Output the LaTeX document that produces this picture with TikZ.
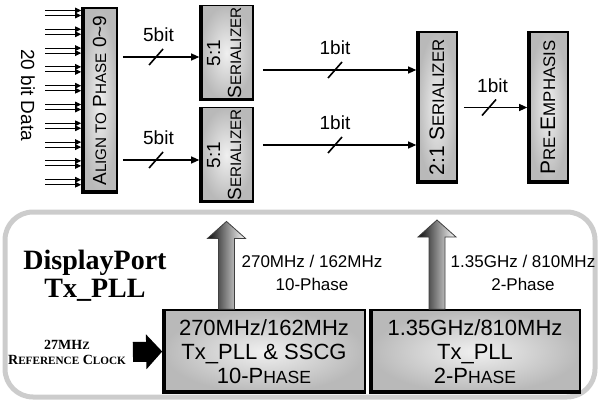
\documentclass[tikz,border=0pt]{standalone}
\usepackage{fontspec}
\setmainfont{Liberation Sans}
\newfontfamily\titlefont{Liberation Serif}
\usetikzlibrary{arrows.meta,positioning,calc}

\newcommand{\smc}[1]{\scalebox{0.8}{#1}}
% slash across a bus line
\newcommand{\busmark}[1]{\draw[line width=0.8pt] ($(#1)+(-7,8)$) -- ($(#1)+(7,-8)$);}
% shaded hollow arrow pointing up
\newcommand{\blockarrow}[2]{%
  \shade[left color=black!95, right color=white, draw=black!75, line width=0.4pt]
    ($(#1)+(-8,0)$) -- ($(#2)+(-8,17)$) -- ($(#2)+(-19,17)$) -- (#2)
    -- ($(#2)+(19,17)$) -- ($(#2)+(8,17)$) -- ($(#1)+(8,0)$) -- cycle;}

\begin{document}
\begin{tikzpicture}[x=0.5pt, y=-0.5pt,
    hbox/.style={rectangle, draw=black, line width=0.8pt, inner sep=1pt,
      inner color=gray!12, outer color=gray!55,
      path picture={\draw[black, line width=3pt]
        (path picture bounding box.north west) -- (path picture bounding box.south west)
        -- (path picture bounding box.south east);}},
    alignbox/.style={hbox, minimum width=17.5pt, minimum height=92.5pt, font=\fontsize{9.5}{10}\selectfont},
    serbox/.style={hbox, minimum width=26.5pt, minimum height=45pt, font=\fontsize{9.5}{10.5}\selectfont},
    tallbox/.style={hbox, minimum width=20pt, minimum height=75.5pt, font=\fontsize{10.5}{11}\selectfont},
    pllbox/.style={hbox, minimum width=101pt, minimum height=41.5pt, align=center, font=\fontsize{11}{12}\selectfont},
    arr/.style={-{Triangle[length=4pt,width=3.5pt]}, line width=0.6pt},
    inarr/.style={-{Triangle[length=3pt,width=2.8pt]}, line width=0.5pt},
    bitlbl/.style={font=\fontsize{9.5}{11}\selectfont, above=4pt},
    freqlbl/.style={font=\fontsize{8.5}{11.5}\selectfont, align=center},
  ]
    \useasboundingbox (0,0) rectangle (600,401);

    % PLL area
    \draw[gray!40, line width=2.5pt, rounded corners=14pt] (5,212) rectangle (595,397);

    % --- data path ---
    \node[rotate=-90, font=\fontsize{9.5}{11}\selectfont] (datalbl) at (28,95) {20 bit Data};
    \node[alignbox] (align) at (99.5,100.5) {\rotatebox{90}{A\smc{LIGN TO} P\smc{HASE} 0\textasciitilde9}};
    \node[serbox] (ser1) at (226.5,53) {\rotatebox{90}{\begin{tabular}{@{}c@{}}5:1\\S\smc{ERIALIZER}\end{tabular}}};
    \node[serbox] (ser2) at (226.5,155) {\rotatebox{90}{\begin{tabular}{@{}c@{}}5:1\\S\smc{ERIALIZER}\end{tabular}}};
    \node[tallbox] (ser21) at (437,107.5) {\rotatebox{90}{2:1 S\smc{ERIALIZER}}};
    \node[tallbox] (pre) at (548,107.5) {\rotatebox{90}{P\smc{RE}-E\smc{MPHASIS}}};

    % 20 input bits
    \foreach \r in {0,...,9} {
      \pgfmathsetmacro{\yy}{13+\r*18.8}
      \draw[inarr] (45,\yy-2.5) -- (align.west |- 0,\yy-2.5);
      \draw[inarr] (45,\yy+2.5) -- (align.west |- 0,\yy+2.5);
    }

    \draw[arr, shorten <=2.5pt] (align.east |- 0,57) -- node[bitlbl] {5bit} coordinate[pos=.47] (m1) (ser1.west |- 0,57);
    \draw[arr, shorten <=2.5pt] (align.east |- 0,160) -- node[bitlbl] {5bit} coordinate[pos=.47] (m2) (ser2.west |- 0,160);
    \busmark{m1}
    \busmark{m2}

    \draw[arr, shorten <=4.5pt] (ser1.east |- 0,70) -- node[bitlbl] {1bit} coordinate[pos=.5] (m3) (ser21.west |- 0,70);
    \draw[arr, shorten <=4.5pt] (ser2.east |- 0,145) -- node[bitlbl] {1bit} coordinate[pos=.5] (m4) (ser21.west |- 0,145);
    \busmark{m3}
    \busmark{m4}

    \draw[arr, shorten <=3pt] (ser21.east) -- node[bitlbl] {1bit} coordinate[pos=.45] (m5) (pre.west);
    \busmark{m5}

    % --- Tx_PLL ---
    \node[font=\titlefont\bfseries\fontsize{14}{14}\selectfont, align=center] (title) at (95,276) {DisplayPort\\Tx\_PLL};
    \node[pllbox] (pll1) at (264,351.5) {270MHz/162MHz\\Tx\_PLL \& SSCG\\10-P\smc{HASE}};
    \node[pllbox, minimum width=105pt] (pll2) at (475,351.5) {1.35GHz/810MHz\\Tx\_PLL\\2-P\smc{HASE}};
    \node[font=\titlefont\bfseries\fontsize{7}{7.5}\selectfont, align=center] (refclk) at (67,352) {27MH\smc{Z}\\R\smc{EFERENCE} C\smc{LOCK}};
    \draw[line width=10pt, -{Triangle[length=8pt,width=17pt]}] (refclk.east) -- (pll1.west);

    \node[freqlbl] (f1lbl) at (312,273) {270MHz / 162MHz\\10-Phase};
    \node[freqlbl] (f2lbl) at (523,273) {1.35GHz / 810MHz\\2-Phase};

    \coordinate (up1b) at (pll1.north -| ser2.south);
    \coordinate (up1t) at ([yshift=-9pt]ser2.south);
    \coordinate (up2b) at (pll2.north -| ser21.south);
    \coordinate (up2t) at (ser21.south |- 0,220);
    \blockarrow{up1b}{up1t}
    \blockarrow{up2b}{up2t}

\end{tikzpicture}
\end{document}
